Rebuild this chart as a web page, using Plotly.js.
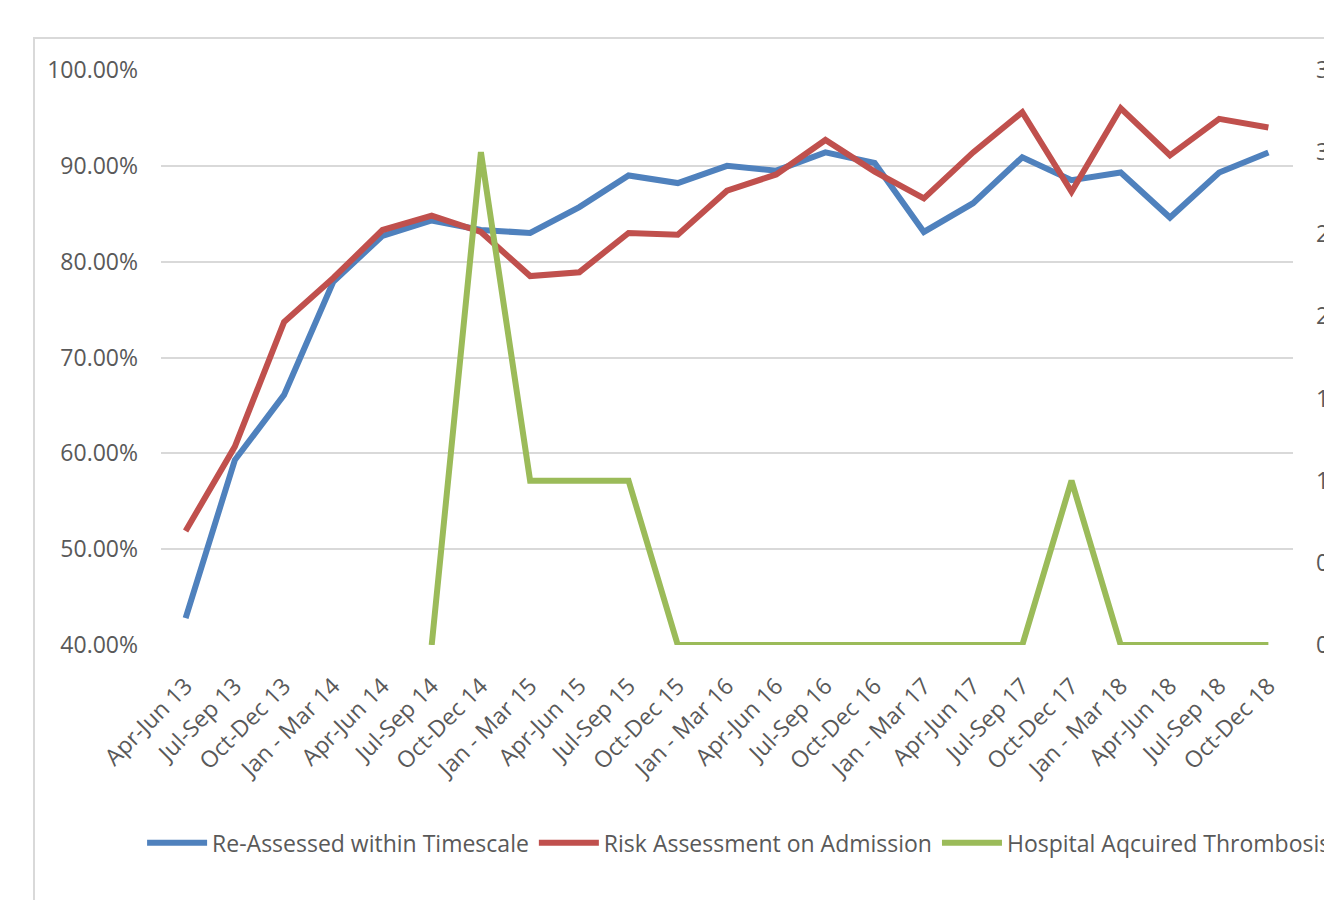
<!DOCTYPE html>
<html>
<head>
<meta charset="utf-8">
<script src="https://cdn.plot.ly/plotly-3.0.1.min.js"></script>
<style>
  html, body { margin: 0; padding: 0; background: #ffffff; overflow: hidden; width: 1324px; height: 900px; }
  #frame { position: absolute; left: 33px; top: 37px; width: 1420px; height: 900px; border: 2px solid #d9d9d9; box-sizing: border-box; }
  #chart { position: absolute; left: 34px; top: 38px; width: 1400px; height: 880px; }
</style>
</head>
<body>
<div id="frame"></div>
<div id="chart"></div>
<script>
const categories = ["Apr-Jun 13","Jul-Sep 13","Oct-Dec 13","Jan - Mar 14","Apr-Jun 14","Jul-Sep 14","Oct-Dec 14","Jan - Mar 15","Apr-Jun 15","Jul-Sep 15","Oct-Dec 15","Jan - Mar 16","Apr-Jun 16","Jul-Sep 16","Oct-Dec 16","Jan - Mar 17","Apr-Jun 17","Jul-Sep 17","Oct-Dec 17","Jan - Mar 18","Apr-Jun 18","Jul-Sep 18","Oct-Dec 18"];
const reAssessed = [0.428,0.593,0.661,0.779,0.827,0.843,0.833,0.830,0.857,0.890,0.882,0.900,0.895,0.914,0.903,0.831,0.861,0.909,0.885,0.893,0.846,0.893,0.914];
const riskAssessment = [0.519,0.607,0.737,0.783,0.833,0.848,0.831,0.785,0.789,0.830,0.828,0.874,0.891,0.927,0.894,0.866,0.914,0.956,0.873,0.960,0.911,0.949,0.940];
const thrombosis = [null,null,null,null,null,0,3,1,1,1,0,0,0,0,0,0,0,0,1,0,0,0,0];
const seriesNames = ["Re-Assessed within Timescale","Risk Assessment on Admission","Hospital Aqcuired Thrombosis"];

const font = {family: "Open Sans, sans-serif", size: 23, color: "#595959"};

const traces = [
  {x: categories, y: reAssessed, name: seriesNames[0], type: "scatter", mode: "lines",
   line: {color: "#4f81bd", width: 6}, yaxis: "y"},
  {x: categories, y: riskAssessment, name: seriesNames[1], type: "scatter", mode: "lines",
   line: {color: "#c0504d", width: 6}, yaxis: "y"},
  {x: categories, y: thrombosis, name: seriesNames[2], type: "scatter", mode: "lines",
   line: {color: "#9bbb59", width: 6}, yaxis: "y2", connectgaps: false}
];

const layout = {
  width: 1400, height: 880,
  margin: {l: 127.4, r: 141.4, t: 32, b: 273},
  paper_bgcolor: "rgba(0,0,0,0)", plot_bgcolor: "rgba(0,0,0,0)",
  font: font,
  showlegend: true,
  legend: {orientation: "h", x: -0.0167, xanchor: "left", y: -0.344, yanchor: "middle",
           font: font, itemwidth: 60, traceorder: "normal", tracegroupgap: 0},
  xaxis: {type: "category", range: [-0.5, 22.5], tickangle: -45, showgrid: false,
          zeroline: false, showline: false, ticks: "", tickfont: font, automargin: false,
          ticklabelstandoff: 22},
  yaxis: {range: [0.4, 1.0], dtick: 0.1, tickformat: ".2%", showgrid: true, gridcolor: "#d9d9d9",
          gridwidth: 2, zeroline: false, showline: false, ticks: "", tickfont: font,
          ticklabelstandoff: 22, automargin: false},
  yaxis2: {range: [0, 3.5], dtick: 0.5, tickformat: ".1f", overlaying: "y", side: "right",
           showgrid: false, zeroline: false, showline: false, ticks: "", tickfont: font,
           ticklabelstandoff: 22, automargin: false}
};

Plotly.newPlot("chart", traces, layout, {staticPlot: true, displayModeBar: false});
</script>
</body>
</html>
